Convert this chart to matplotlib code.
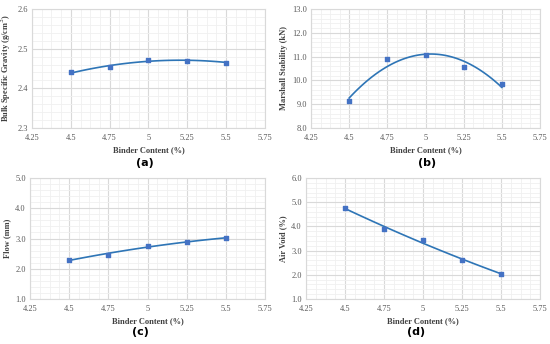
import numpy as np
import matplotlib.pyplot as plt
from matplotlib.ticker import MultipleLocator, AutoMinorLocator, FormatStrFormatter, FuncFormatter

plt.rcParams['font.family'] = ['Liberation Serif', 'DejaVu Serif']

# data
binder = [4.5, 4.75, 5.0, 5.25, 5.5]
bulk_gravity = [2.440, 2.453, 2.472, 2.470, 2.465]
stability = [9.12, 10.88, 11.05, 10.58, 9.83]
flow = [2.30, 2.45, 2.75, 2.90, 3.01]
air_void = [4.77, 3.90, 3.42, 2.60, 2.05]

ylabels = ["Bulk Specific Gravity (g/cm$^3$)", "Marshall Stability (kN)", "Flow (mm)", "Air Void (%)"]
yranges = [(2.3, 2.6, 0.1, "%.1f"), (8.0, 13.0, 1.0, "%.1f"), (1.0, 5.0, 1.0, "%.1f"), (1.0, 6.0, 1.0, "%.1f")]
tags = ["(a)", "(b)", "(c)", "(d)"]
tag_pos = [(145, 163), (427, 163), (140, 332), (416, 332)]
series = [bulk_gravity, stability, flow, air_void]

# axes positions in pixels (left, top, right, bottom)
boxes = [(32, 9, 265, 128), (311, 9, 540, 128), (30, 178, 265, 299), (306, 178, 540, 299)]
W, H = 550, 344

fig = plt.figure(figsize=(5.5, 3.44), dpi=100)
blue = "#4472C4"
line_blue = "#2E75B6"

def xfmt(v, pos):
    s = ("%.2f" % v).rstrip("0").rstrip(".")
    return s

for i in range(4):
    l, t, r, b = boxes[i]
    ax = fig.add_axes([l / W, 1 - b / H, (r - l) / W, (b - t) / H])
    y = series[i]
    # polynomial trend line (2nd order)
    coef = np.polyfit(binder, y, 2)
    xs = np.linspace(4.5, 5.5, 100)
    ax.plot(xs, np.polyval(coef, xs), color=line_blue, linewidth=1.2, zorder=3)
    ax.scatter(binder, y, s=9, color=blue, marker="s", zorder=4)

    ymin, ymax, step, fmt = yranges[i]
    ax.set_xlim(4.25, 5.75)
    ax.set_ylim(ymin, ymax)
    ax.xaxis.set_major_locator(MultipleLocator(0.25))
    ax.xaxis.set_minor_locator(AutoMinorLocator(4))
    ax.yaxis.set_major_locator(MultipleLocator(step))
    ax.yaxis.set_minor_locator(AutoMinorLocator(5))
    ax.xaxis.set_major_formatter(FuncFormatter(xfmt))
    ax.yaxis.set_major_formatter(FormatStrFormatter(fmt))
    ax.grid(True, which="major", color="#d9d9d9", linewidth=0.8)
    ax.grid(True, which="minor", color="#f0f0f0", linewidth=0.6)
    ax.set_axisbelow(True)
    for sp in ax.spines.values():
        sp.set_color("#d9d9d9")
        sp.set_linewidth(0.8)
    ax.tick_params(which="both", length=0, labelsize=6, colors="#595959")
    ax.tick_params(axis="x", pad=4)
    ax.tick_params(axis="y", pad=3)

    ax.set_xlabel("Binder Content (%)", fontsize=6, fontweight="bold", color="#404040", labelpad=3)
    ax.set_ylabel(ylabels[i], fontsize=6, fontweight="bold", color="#404040", labelpad=3)
    fig.text(tag_pos[i][0] / W, 1 - tag_pos[i][1] / H, tags[i],
             ha="center", va="center", fontsize=8, fontweight="bold",
             family=["DejaVu Sans"])

fig.savefig("out.png", dpi=100)
